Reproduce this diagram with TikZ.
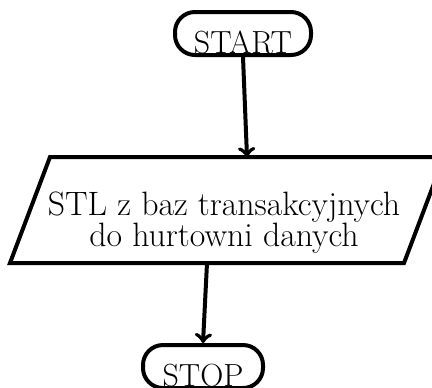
\documentclass[tikz,border=0pt]{standalone}
\usepackage{tikz}
\begin{document}
\begin{tikzpicture}[x=0.5pt,y=-0.5pt,line width=2pt,font=\fontsize{16}{16}\selectfont,
	terminal/.style={draw,rounded corners=10pt,inner ysep=1pt,text height=19.5pt,text depth=0pt}]
	\useasboundingbox (0,0) rectangle (432,387);
	\clip (0,0) rectangle (432,387);
	\node[terminal,minimum width=68pt,anchor=base] (start) at (243,53) {START};
	% wejscie/wyjscie
	\draw (50,157) -- (444,157) -- (404,263) -- (10,263) -- cycle;
	\coordinate (stl top) at (247,157);
	\coordinate (stl bottom) at (207,263);
	\node[align=center,font=\fontsize{16.9}{15.5}\selectfont] (stl) at (224,223) {STL z baz transakcyjnych\\do hurtowni danych};
	\node[terminal,minimum width=60pt,anchor=base] (stop) at (203,386) {STOP};
	\draw[->] (start.south)--(stl top);
	\draw[->] (stl bottom)--(stop.north);
\end{tikzpicture}
\end{document}
